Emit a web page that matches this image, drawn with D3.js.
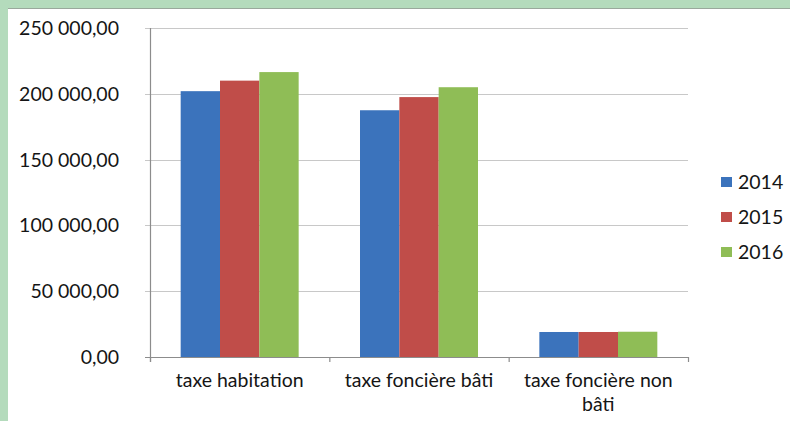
<!DOCTYPE html>
<html>
<head>
<meta charset="utf-8">
<script src="https://cdn.jsdelivr.net/npm/d3@7"></script>
<style>
  body { margin: 0; background: #b4dbbc; }
  svg { display: block; font-family: Lato, "Open Sans", sans-serif; }
</style>
</head>
<body>
<script>
var categories = [["taxe habitation"], ["taxe foncière bâti"], ["taxe foncière non", "bâti"]];
var years = ["2014", "2015", "2016"];
var values2014 = [202000, 187500, 19000];
var values2015 = [210000, 197500, 19000];
var values2016 = [216500, 205000, 19200];
var yTicks = [0, 50000, 100000, 150000, 200000, 250000];
var colors = ["#3b73bc", "#c04d49", "#8fbd56"];

var series = [values2014, values2015, values2016];

var W = 790, H = 421;
var svg = d3.select("body").append("svg").attr("width", W).attr("height", H);

// white panel inside the green frame
svg.append("rect").attr("x", 8).attr("y", 8).attr("width", W - 8).attr("height", H - 8).attr("fill", "#fff");
svg.append("line").attr("x1", 8).attr("y1", 8.5).attr("x2", W).attr("y2", 8.5).attr("stroke", "#9aa89c");

var mLeft = 150, mRight = 688, mTop = 28, mBottom = 357;

var x = d3.scaleBand().domain(d3.range(categories.length)).range([mLeft, mRight]);
var xInner = d3.scaleBand().domain(d3.range(years.length)).range([0, x.bandwidth()]).paddingOuter(0.78);
var y = d3.scaleLinear().domain([0, 250000]).range([mBottom, mTop]);

var fmt = function(v) {
  return d3.format(",.2f")(v).replace(/,/g, " ").replace(".", ",");
};

// gridlines
svg.selectAll(".grid").data(yTicks).enter().append("line")
  .attr("x1", mLeft - 5).attr("x2", mRight)
  .attr("y1", function(d) { return Math.round(y(d)) + 0.5; })
  .attr("y2", function(d) { return Math.round(y(d)) + 0.5; })
  .attr("stroke", function(d) { return d === 0 ? "#8c8c8c" : "#c8c8c8"; })
  .attr("stroke-width", 1.2);

// y axis labels
svg.selectAll(".ylab").data(yTicks).enter().append("text")
  .attr("x", 119).attr("y", function(d) { return y(d) + 7; })
  .attr("text-anchor", "end").attr("font-size", 19.5).attr("fill", "#151515")
  .text(fmt);

// bars
var groups = svg.selectAll(".grp").data(categories).enter().append("g")
  .attr("transform", function(d, i) { return "translate(" + x(i) + ",0)"; });

groups.selectAll("rect").data(function(d, i) { return series.map(function(s) { return s[i]; }); })
  .enter().append("rect")
  .attr("x", function(d, j) { return xInner(j); })
  .attr("width", xInner.bandwidth())
  .attr("y", function(d) { return y(d); })
  .attr("height", function(d) { return mBottom - y(d); })
  .attr("fill", function(d, j) { return colors[j]; });

// axes lines
svg.append("line").attr("x1", mLeft + 0.5).attr("x2", mLeft + 0.5).attr("y1", mTop).attr("y2", mBottom + 5)
  .attr("stroke", "#8c8c8c").attr("stroke-width", 1.2);
svg.selectAll(".xtick").data(d3.range(categories.length + 1)).enter().append("line")
  .attr("x1", function(d) { return mLeft + d * x.bandwidth() + 0.5; })
  .attr("x2", function(d) { return mLeft + d * x.bandwidth() + 0.5; })
  .attr("y1", mBottom).attr("y2", mBottom + 5)
  .attr("stroke", "#8c8c8c").attr("stroke-width", 1.2);

// x labels
groups.append("text")
  .attr("x", x.bandwidth() / 2).attr("y", 387)
  .attr("text-anchor", "middle").attr("font-size", 19.5).attr("fill", "#151515")
  .selectAll("tspan").data(function(d) { return d; }).enter().append("tspan")
  .attr("x", x.bandwidth() / 2)
  .attr("dy", function(d, k) { return k === 0 ? 0 : 23.5; })
  .text(function(d) { return d; });

// legend
var legend = svg.selectAll(".leg").data(years).enter().append("g")
  .attr("transform", function(d, i) { return "translate(721," + (182 + i * 35) + ")"; });
legend.append("rect").attr("y", -5).attr("width", 11).attr("height", 10).attr("fill", function(d, i) { return colors[i]; });
legend.append("text").attr("x", 17).attr("y", 7).attr("font-size", 19.5).attr("fill", "#151515")
  .text(function(d) { return d; });
</script>
</body>
</html>
